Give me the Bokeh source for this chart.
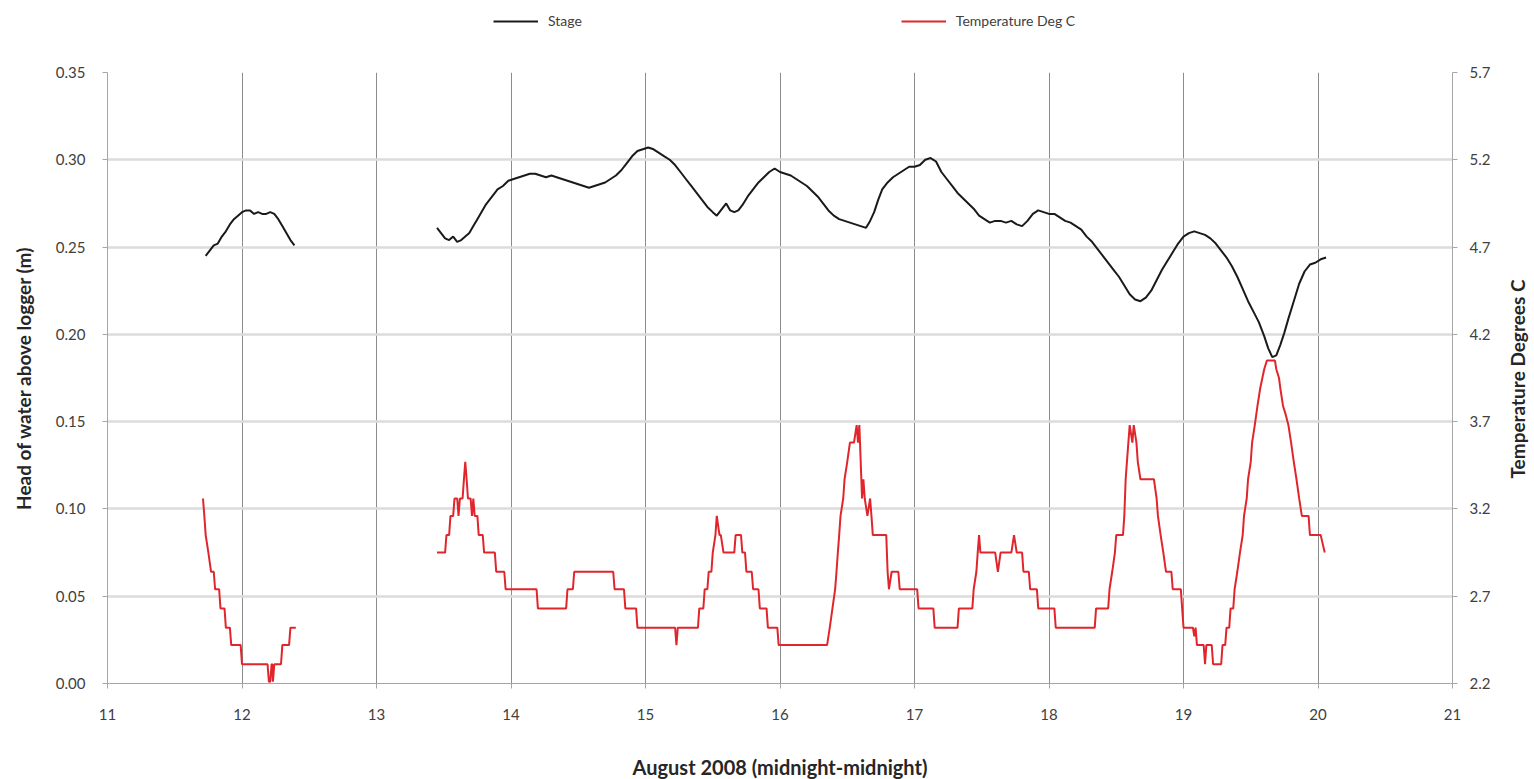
import math
from bokeh.plotting import figure
from bokeh.layouts import column, row
from bokeh.models import (Range1d, LinearAxis, FixedTicker, NumeralTickFormatter,
                          Legend, LegendItem, Label)
from bokeh.embed import file_html
from bokeh.resources import INLINE

# ---------------- data ----------------
x_ticks = [11, 12, 13, 14, 15, 16, 17, 18, 19, 20, 21]
head_ticks = [0.0, 0.05, 0.10, 0.15, 0.20, 0.25, 0.30, 0.35]
temp_ticks = [2.2, 2.7, 3.2, 3.7, 4.2, 4.7, 5.2, 5.7]

stage_day_1 = [11.73, 11.76, 11.79, 11.82, 11.85, 11.88, 11.91, 11.94, 11.97, 12.00,
               12.03, 12.06, 12.09, 12.12, 12.15, 12.18, 12.21, 12.24, 12.27, 12.30,
               12.33, 12.36, 12.39]
stage_head_1 = [0.245, 0.248, 0.251, 0.252, 0.256, 0.259, 0.263, 0.266, 0.268, 0.270,
                0.271, 0.271, 0.269, 0.270, 0.269, 0.269, 0.270, 0.269, 0.266, 0.262,
                0.258, 0.254, 0.251]

stage_day_2 = [13.45, 13.48, 13.51, 13.54, 13.57, 13.60, 13.63, 13.66, 13.69, 13.72,
               13.75, 13.78, 13.81, 13.84, 13.87, 13.90, 13.94, 13.98, 14.02, 14.06,
               14.10, 14.14, 14.18, 14.22, 14.26, 14.30, 14.34, 14.38, 14.42, 14.46,
               14.50, 14.54, 14.58, 14.62, 14.66, 14.70, 14.74, 14.78, 14.82, 14.86,
               14.90, 14.94, 14.98, 15.02, 15.06, 15.10, 15.14, 15.18, 15.22, 15.26,
               15.30, 15.34, 15.38, 15.42, 15.46, 15.50, 15.53, 15.57, 15.60, 15.63,
               15.66, 15.69, 15.72, 15.76, 15.80, 15.84, 15.88, 15.92, 15.96, 16.00,
               16.04, 16.08, 16.12, 16.16, 16.20, 16.24, 16.28, 16.32, 16.36, 16.40,
               16.44, 16.48, 16.52, 16.56, 16.60, 16.64, 16.67, 16.70, 16.73, 16.76,
               16.80, 16.84, 16.88, 16.92, 16.96, 17.00, 17.04, 17.08, 17.12, 17.16,
               17.20, 17.24, 17.28, 17.32, 17.36, 17.40, 17.44, 17.48, 17.52, 17.56,
               17.60, 17.64, 17.68, 17.72, 17.76, 17.80, 17.84, 17.88, 17.92, 17.96,
               18.00, 18.04, 18.08, 18.12, 18.16, 18.20, 18.24, 18.28, 18.32, 18.36,
               18.40, 18.44, 18.48, 18.52, 18.56, 18.60, 18.64, 18.68, 18.72, 18.76,
               18.80, 18.84, 18.88, 18.92, 18.96, 19.00, 19.04, 19.08, 19.12, 19.16,
               19.20, 19.24, 19.28, 19.32, 19.36, 19.40, 19.44, 19.48, 19.52, 19.56,
               19.60, 19.63, 19.66, 19.69, 19.72, 19.75, 19.78, 19.82, 19.86, 19.90,
               19.94, 19.98, 20.02, 20.06]
stage_head_2 = [0.261, 0.258, 0.255, 0.254, 0.256, 0.253, 0.254, 0.256, 0.258, 0.262,
                0.266, 0.270, 0.274, 0.277, 0.280, 0.283, 0.285, 0.288, 0.289, 0.290,
                0.291, 0.292, 0.292, 0.291, 0.290, 0.291, 0.290, 0.289, 0.288, 0.287,
                0.286, 0.285, 0.284, 0.285, 0.286, 0.287, 0.289, 0.291, 0.294, 0.298,
                0.302, 0.305, 0.306, 0.307, 0.306, 0.304, 0.302, 0.300, 0.297, 0.293,
                0.289, 0.285, 0.281, 0.277, 0.273, 0.270, 0.268, 0.272, 0.275, 0.271,
                0.270, 0.271, 0.274, 0.279, 0.283, 0.287, 0.290, 0.293, 0.295, 0.293,
                0.292, 0.291, 0.289, 0.287, 0.285, 0.282, 0.279, 0.275, 0.271, 0.268,
                0.266, 0.265, 0.264, 0.263, 0.262, 0.261, 0.265, 0.270, 0.277, 0.283,
                0.287, 0.290, 0.292, 0.294, 0.296, 0.296, 0.297, 0.300, 0.301, 0.299,
                0.293, 0.289, 0.285, 0.281, 0.278, 0.275, 0.272, 0.268, 0.266, 0.264,
                0.265, 0.265, 0.264, 0.265, 0.263, 0.262, 0.265, 0.269, 0.271, 0.270,
                0.269, 0.269, 0.267, 0.265, 0.264, 0.262, 0.260, 0.256, 0.253, 0.249,
                0.245, 0.241, 0.237, 0.233, 0.228, 0.223, 0.220, 0.219, 0.221, 0.225,
                0.231, 0.237, 0.242, 0.247, 0.252, 0.256, 0.258, 0.259, 0.258, 0.257,
                0.255, 0.252, 0.248, 0.244, 0.239, 0.233, 0.226, 0.219, 0.213, 0.207,
                0.199, 0.192, 0.187, 0.188, 0.194, 0.201, 0.209, 0.219, 0.229, 0.236,
                0.240, 0.241, 0.243, 0.244]

temp_day_1 = [11.71, 11.72, 11.73, 11.75, 11.77, 11.79, 11.80, 11.83, 11.84, 11.87,
              11.88, 11.91, 11.92, 11.99, 12.00, 12.19, 12.20, 12.21, 12.22, 12.225,
              12.23, 12.24, 12.29, 12.30, 12.35, 12.36, 12.40]
temp_c_1 = [3.26, 3.16, 3.05, 2.95, 2.84, 2.84, 2.74, 2.74, 2.63, 2.63,
            2.52, 2.52, 2.42, 2.42, 2.31, 2.31, 2.21, 2.21, 2.31, 2.31,
            2.21, 2.31, 2.31, 2.42, 2.42, 2.52, 2.52]

temp_day_2 = [13.45, 13.51, 13.52, 13.54, 13.55, 13.57, 13.58, 13.60, 13.61, 13.62,
              13.64, 13.65, 13.66, 13.67, 13.68, 13.70, 13.71, 13.72, 13.73, 13.75,
              13.76, 13.79, 13.80, 13.88, 13.89, 13.95, 13.96, 14.19, 14.20, 14.41,
              14.42, 14.46, 14.47, 14.76, 14.77, 14.84, 14.85, 14.93, 14.94, 15.22,
              15.23, 15.24, 15.39, 15.40, 15.43, 15.44, 15.46, 15.47, 15.49, 15.50,
              15.52, 15.53, 15.55, 15.56, 15.58, 15.66, 15.67, 15.71, 15.72, 15.74,
              15.75, 15.79, 15.80, 15.84, 15.85, 15.90, 15.91, 15.98, 15.99, 16.35,
              16.37, 16.39, 16.41, 16.42, 16.43, 16.44, 16.45, 16.47, 16.48, 16.50,
              16.52, 16.55, 16.57, 16.58, 16.59, 16.60, 16.61, 16.62, 16.63, 16.65,
              16.67, 16.68, 16.69, 16.79, 16.80, 16.81, 16.83, 16.88, 16.89, 17.02,
              17.03, 17.14, 17.15, 17.32, 17.33, 17.43, 17.44, 17.46, 17.47, 17.48,
              17.49, 17.60, 17.62, 17.64, 17.72, 17.74, 17.76, 17.80, 17.81, 17.85,
              17.86, 17.91, 17.92, 18.04, 18.05, 18.34, 18.35, 18.44, 18.45, 18.47,
              18.49, 18.50, 18.55, 18.56, 18.57, 18.59, 18.60, 18.62, 18.63, 18.65,
              18.66, 18.68, 18.78, 18.80, 18.81, 18.83, 18.85, 18.87, 18.91, 18.92,
              18.98, 18.99, 19.00, 19.07, 19.08, 19.09, 19.10, 19.15, 19.16, 19.17,
              19.21, 19.22, 19.28, 19.29, 19.31, 19.32, 19.34, 19.35, 19.37, 19.38,
              19.40, 19.42, 19.44, 19.45, 19.47, 19.48, 19.50, 19.51, 19.53, 19.55,
              19.57, 19.60, 19.62, 19.64, 19.68, 19.69, 19.71, 19.72, 19.74, 19.76,
              19.78, 19.80, 19.82, 19.84, 19.86, 19.88, 19.93, 19.94, 20.02, 20.05]
temp_c_2 = [2.95, 2.95, 3.05, 3.05, 3.16, 3.16, 3.26, 3.26, 3.16, 3.26,
            3.26, 3.37, 3.47, 3.37, 3.26, 3.26, 3.16, 3.26, 3.16, 3.16,
            3.05, 3.05, 2.95, 2.95, 2.84, 2.84, 2.74, 2.74, 2.63, 2.63,
            2.74, 2.74, 2.84, 2.84, 2.74, 2.74, 2.63, 2.63, 2.52, 2.52,
            2.42, 2.52, 2.52, 2.63, 2.63, 2.74, 2.74, 2.84, 2.84, 2.95,
            3.05, 3.16, 3.05, 3.05, 2.95, 2.95, 3.05, 3.05, 2.95, 2.95,
            2.84, 2.84, 2.74, 2.74, 2.63, 2.63, 2.52, 2.52, 2.42, 2.42,
            2.52, 2.63, 2.74, 2.84, 2.95, 3.05, 3.16, 3.26, 3.37, 3.47,
            3.58, 3.58, 3.68, 3.58, 3.68, 3.47, 3.26, 3.37, 3.26, 3.16,
            3.26, 3.16, 3.05, 3.05, 2.84, 2.74, 2.84, 2.84, 2.74, 2.74,
            2.63, 2.63, 2.52, 2.52, 2.63, 2.63, 2.74, 2.84, 2.95, 3.05,
            2.95, 2.95, 2.84, 2.95, 2.95, 3.05, 2.95, 2.95, 2.84, 2.84,
            2.74, 2.74, 2.63, 2.63, 2.52, 2.52, 2.63, 2.63, 2.74, 2.84,
            2.95, 3.05, 3.05, 3.16, 3.37, 3.58, 3.68, 3.58, 3.68, 3.58,
            3.47, 3.37, 3.37, 3.26, 3.16, 3.05, 2.95, 2.84, 2.84, 2.74,
            2.74, 2.63, 2.52, 2.52, 2.47, 2.52, 2.42, 2.42, 2.31, 2.42,
            2.42, 2.31, 2.31, 2.42, 2.42, 2.52, 2.52, 2.63, 2.63, 2.74,
            2.84, 2.95, 3.05, 3.16, 3.26, 3.37, 3.47, 3.58, 3.68, 3.79,
            3.89, 4.00, 4.05, 4.05, 4.05, 4.00, 3.95, 3.89, 3.79, 3.74,
            3.68, 3.58, 3.47, 3.37, 3.26, 3.16, 3.16, 3.05, 3.05, 2.95]

series_names = ["Stage", "Temperature Deg C"]
x_title = "August 2008 (midnight-midnight)"
left_title = "Head of water above logger (m)"
right_title = "Temperature Degrees C"

# ---------------- styling ----------------
FONT = "Lato"
TEXT = "#404040"
TITLE = "#262626"
STAGE_COLOR = "#1a1a1a"
TEMP_COLOR = "#e0262c"
TOTAL_W = 1530
MAIN_W = 1505
TOP_B, FRAME_H, BOT_B = 14, 611, 93
MAIN_H = TOP_B + FRAME_H + BOT_B

# ---------------- main figure ----------------
p = figure(frame_width=1345, frame_height=FRAME_H,
           min_border_left=107, min_border_right=MAIN_W - 107 - 1345,
           min_border_top=TOP_B, min_border_bottom=BOT_B,
           x_range=Range1d(11, 21), y_range=Range1d(0, 0.35),
           output_backend="svg", toolbar_location=None,
           x_axis_location=None, y_axis_location=None)
p.extra_y_ranges = {"temp": Range1d(2.2, 5.7)}
p.outline_line_color = None
p.background_fill_color = "white"
p.border_fill_color = "white"

xaxis = LinearAxis(ticker=FixedTicker(ticks=x_ticks), axis_label=x_title)
yaxis = LinearAxis(ticker=FixedTicker(ticks=head_ticks),
                   formatter=NumeralTickFormatter(format="0.00"),
                   axis_label=left_title)
raxis = LinearAxis(y_range_name="temp", ticker=FixedTicker(ticks=temp_ticks),
                   formatter=NumeralTickFormatter(format="0.0"))

for ax in (xaxis, yaxis, raxis):
    ax.axis_line_color = "#a6a6a6"
    ax.axis_line_width = 1
    ax.major_tick_line_color = "#a6a6a6"
    ax.major_tick_out = 5
    ax.major_tick_in = 0
    ax.minor_tick_line_color = None
    ax.major_label_text_font = FONT
    ax.major_label_text_font_size = "15px"
    ax.major_label_text_color = TEXT
    ax.axis_label_text_font = FONT
    ax.axis_label_text_font_size = "19px"
    ax.axis_label_text_font_style = "bold"
    ax.axis_label_text_color = TITLE

xaxis.axis_label_text_font_size = "20px"
xaxis.major_label_standoff = 20
xaxis.axis_label_standoff = 32
yaxis.major_label_standoff = 17
yaxis.axis_label_standoff = 18
raxis.major_label_standoff = 12

p.add_layout(xaxis, "below")
p.add_layout(yaxis, "left")
p.add_layout(raxis, "right")

p.xgrid.ticker = FixedTicker(ticks=x_ticks)
p.ygrid.ticker = FixedTicker(ticks=head_ticks)
p.xgrid.grid_line_color = "#8c8c8c"
p.xgrid.grid_line_width = 1
p.ygrid.grid_line_color = "#dcdcdc"
p.ygrid.grid_line_width = 2.5

p.line(stage_day_1, stage_head_1, line_color=STAGE_COLOR, line_width=2)
p.line(stage_day_2, stage_head_2, line_color=STAGE_COLOR, line_width=2)
p.line(temp_day_1, temp_c_1, y_range_name="temp", line_color=TEMP_COLOR, line_width=2)
p.line(temp_day_2, temp_c_2, y_range_name="temp", line_color=TEMP_COLOR, line_width=2)

# ---------------- right-hand axis title (reads bottom to top) ----------------
rt = figure(width=TOTAL_W - MAIN_W, height=MAIN_H, x_range=Range1d(0, 1), y_range=Range1d(0, 1),
            output_backend="svg", toolbar_location=None,
            min_border=0, x_axis_location=None, y_axis_location=None)
rt.outline_line_color = None
rt.xgrid.visible = False
rt.ygrid.visible = False
# the rotated text starts at its anchor, so the anchor sits half a title length below centre
rt.add_layout(Label(x=12, y=MAIN_H - TOP_B - FRAME_H / 2 - 99, x_units="screen", y_units="screen",
                    text=right_title, angle=math.pi / 2,
                    text_align="center", text_baseline="middle",
                    text_font=FONT, text_font_size="19px", text_font_style="bold",
                    text_color=TITLE))

# ---------------- legend strip above the chart ----------------
lg = figure(width=TOTAL_W, height=58, x_range=Range1d(0, 1), y_range=Range1d(0, 1),
            output_backend="svg", toolbar_location=None,
            min_border=0, x_axis_location=None, y_axis_location=None)
lg.outline_line_color = None
lg.xgrid.visible = False
lg.ygrid.visible = False
# same series, drawn outside the strip's view: only their legend keys show
ls = lg.line(stage_day_2, stage_head_2, line_color=STAGE_COLOR, line_width=2)
lt = lg.line(temp_day_2, temp_c_2, line_color=TEMP_COLOR, line_width=2)
legend = Legend(items=[LegendItem(label=series_names[0], renderers=[ls]),
                       LegendItem(label=series_names[1], renderers=[lt])],
                orientation="horizontal", location=(493, 29),
                spacing=319, glyph_width=45, glyph_height=12, label_standoff=10,
                label_text_font=FONT, label_text_font_size="14px",
                label_text_color=TEXT, border_line_color=None,
                background_fill_alpha=0, padding=4, margin=0)
lg.add_layout(legend)

layout = column(lg, row(p, rt, spacing=0), spacing=0)
open("out.html", "w").write(file_html(layout, INLINE))
